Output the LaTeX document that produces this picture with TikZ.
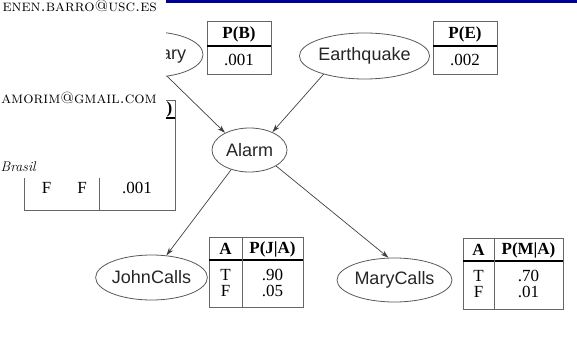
\documentclass[tikz,border=0pt]{standalone}
\usepackage{fontspec}
\newfontfamily\netfont{Liberation Sans}
\newfontfamily\cptfont{Liberation Serif}
\usetikzlibrary{shapes.geometric,arrows.meta}
\definecolor{barblue}{RGB}{0,0,150}

\begin{document}
\begin{tikzpicture}[x=1pt,y=-1pt,
  var/.style={ellipse, draw=black!65, line width=0.8pt, inner sep=0pt, text=black!85, font=\netfont\fontsize{18}{20}\selectfont},
  cpt/.style={rectangle, draw=black!60, line width=0.8pt, inner sep=0pt, anchor=north west},
  cell/.style={inner sep=0pt, font=\cptfont\fontsize{17}{19}\selectfont},
  head/.style={inner sep=0pt, font=\cptfont\bfseries\fontsize{17}{19}\selectfont},
  rule/.style={line width=1.8pt},
  link/.style={draw=black!75, line width=0.7pt, -{Stealth[length=8pt,width=5pt]}},
  info/.style={inner sep=0pt, font=\fontsize{16.2}{18}\selectfont}]
\useasboundingbox (0,0) rectangle (577,339);
\fill[barblue] (0,0) rectangle (577,3.5);

% network
\node[var, minimum width=101, minimum height=45] (burglary) at (152.5,54.5) {Burglary};
\node[var, minimum width=125, minimum height=46] (earthquake) at (364.5,56) {Earthquake};
\node[var, minimum width=75, minimum height=44] (alarm) at (249.5,150) {Alarm};
\node[var, minimum width=111, minimum height=45] (johncalls) at (151.5,277.5) {JohnCalls};
\node[var, minimum width=115, minimum height=44] (marycalls) at (394.5,280) {MaryCalls};

\draw[link] (burglary.-56) -- (alarm.145);
\draw[link] (earthquake.-156) -- (alarm.38);
\draw[link] (alarm.-133) -- (johncalls.56);
\draw[link] (alarm.-31) -- (marycalls.105);

% P(B)
\node[cpt, minimum width=64, minimum height=53] (tabB) at (207,21) {};
\draw[rule] (207,46) -- (271,46);
\node[head] (pB) at (239,34) {P(B)};
\node[cell] (vB) at (239,60) {.001};

% P(E)
\node[cpt, minimum width=64, minimum height=53] (tabE) at (433,21) {};
\draw[rule] (433,46) -- (497,46);
\node[head] (pE) at (465,34) {P(E)};
\node[cell] (vE) at (465,60) {.002};

% P(J|A)
\node[cpt, minimum width=94, minimum height=70] (tabJ) at (209,237) {};
\draw[rule] (209,260) -- (303,260);
\draw[black!60, line width=0.8pt] (242,237) -- (242,307);
\node[head] (aJ) at (225.5,249) {A};
\node[head] (pJ) at (272.5,249) {P(J|A)};
\node[cell] (tJ) at (225.5,274.5) {T};
\node[cell] (fJ) at (225.5,291) {F};
\node[cell] (tvJ) at (272.5,274.5) {.90};
\node[cell] (fvJ) at (272.5,291) {.05};

% P(M|A)
\node[cpt, minimum width=100, minimum height=71] (tabM) at (463,238) {};
\draw[rule] (463,261) -- (563,261);
\draw[black!60, line width=0.8pt] (494,238) -- (494,309);
\node[head] (aM) at (478.5,250) {A};
\node[head] (pM) at (528.5,250) {P(M|A)};
\node[cell] (tM) at (478.5,276) {T};
\node[cell] (fM) at (478.5,292) {F};
\node[cell] (tvM) at (528.5,276) {.70};
\node[cell] (fvM) at (528.5,292) {.01};

% P(A|B,E), mostly hidden
\node[cpt, minimum width=151, minimum height=110] (tabA) at (24,100) {};
\draw[rule] (24,118) -- (175,118);
\draw[black!60, line width=0.8pt] (99,100) -- (99,210);
\node[head] (pA) at (169.5,109.5) {)};
\node[cell] (bA) at (46.5,188) {F};
\node[cell] (eA) at (82,188) {F};
\node[cell] (vA) at (137,188) {.001};

% overlay box
\fill[white] (0,0) rectangle (166,178);
\node[info, anchor=east] (mailA) at (157,6) {\textsc{enen.barro@usc.es}};
\node[info, anchor=east] (mailB) at (157,97.5) {\textsc{amorim@gmail.com}};
\node[info, anchor=base west, font=\fontsize{14}{16}\selectfont\itshape] (place) at (0.5,171.5) {Brasil};
\end{tikzpicture}
\end{document}
